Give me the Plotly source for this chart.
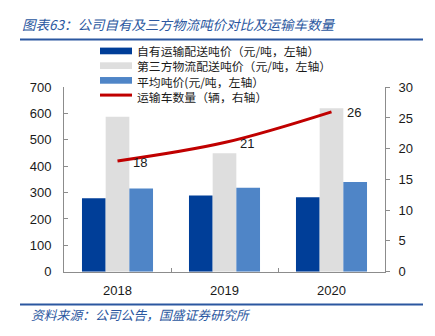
import plotly.graph_objects as go

# Data
years = ["2018", "2019", "2020"]
own_price = [279, 289, 282]          # 自有运输配送吨价（元/吨）
third_party_price = [588, 449, 620]  # 第三方物流配送吨价（元/吨）
avg_price = [316, 318, 340]          # 平均吨价（元/吨）
truck_count = [18, 21, 26]           # 运输车数量（辆）

series_names = [
    "自有运输配送吨价（元/吨，左轴）",
    "第三方物流配送吨价（元/吨，左轴）",
    "平均吨价(元/吨，左轴）",
    "运输车数量（辆，右轴）",
]
left_ticks = [0, 100, 200, 300, 400, 500, 600, 700]
right_ticks = [0, 5, 10, 15, 20, 25, 30]

W, H = 435, 336
C_DARK = "#003E98"
C_GREY = "#DEDEDE"
C_MID = "#4F85C7"
C_RED = "#C00000"
C_HEAD = "#2B57A0"
TICK_FONT = dict(family="Liberation Sans, Arial, sans-serif", size=13, color="#1a1a1a")
CJK = "Noto Sans CJK SC"


def px(x):
    return x / W


def py(y):
    return 1 - y / H


fig = go.Figure()
for vals, col, name in zip([own_price, third_party_price, avg_price],
                           [C_DARK, C_GREY, C_MID], series_names[:3]):
    fig.add_trace(go.Bar(x=years, y=vals, name=name, marker=dict(color=col, line=dict(width=0)),
                         showlegend=False))

fig.add_trace(go.Scatter(x=years, y=truck_count, yaxis="y2", mode="lines", name=series_names[3],
                         line=dict(color=C_RED, width=3, shape="spline"), showlegend=False))

annotations = []
# value labels beside the line points (x given as category index)
for i, v in enumerate(truck_count):
    annotations.append(dict(x=i, y=v, xref="x", yref="y2", text=str(v), showarrow=False,
                            xanchor="left", yanchor="middle", xshift=13, yshift=-1,
                            font=TICK_FONT))

# heading and source
annotations.append(dict(x=px(20), y=py(18), xref="paper", yref="paper", xanchor="left", yanchor="middle",
                        text="<i>图表63：公司自有及三方物流吨价对比及运输车数量</i>", showarrow=False,
                        font=dict(family=CJK, size=13.5, color=C_HEAD)))
annotations.append(dict(x=px(29), y=py(322), xref="paper", yref="paper", xanchor="left", yanchor="middle",
                        text="<i>资料来源：公司公告，国盛证券研究所</i>", showarrow=False,
                        font=dict(family=CJK, size=12.8, color=C_HEAD)))

shapes = [
    dict(type="line", xref="paper", yref="paper", x0=px(20), x1=px(423), y0=py(34), y1=py(34),
         line=dict(color=C_HEAD, width=2)),
    dict(type="line", xref="paper", yref="paper", x0=px(20), x1=px(423), y0=py(311.5), y1=py(311.5),
         line=dict(color=C_HEAD, width=2)),
]

# legend block: swatches as shapes, labels as one left-aligned multi-line text
legend_rows = [46, 61.4, 76.8, 92.2]
legend_cols = [C_DARK, C_GREY, C_MID, C_RED]
for i, (yy, col) in enumerate(zip(legend_rows, legend_cols)):
    if i < 3:
        shapes.append(dict(type="rect", xref="paper", yref="paper", x0=px(100), x1=px(132),
                           y0=py(yy - 3.5), y1=py(yy + 3.5), fillcolor=col, line=dict(width=0)))
    else:
        shapes.append(dict(type="line", xref="paper", yref="paper", x0=px(100), x1=px(132),
                           y0=py(yy), y1=py(yy), line=dict(color=col, width=3)))
legend_mid = sum(legend_rows) / len(legend_rows)
annotations.append(dict(x=px(135), y=py(legend_mid), xref="paper", yref="paper", xanchor="left",
                        yanchor="middle", align="left", text="<br>".join(series_names),
                        showarrow=False, font=dict(family=CJK, size=11.85, color="#1a1a1a")))

axis_line = dict(showline=True, linecolor="#8c8c8c", linewidth=1, showgrid=False, zeroline=False)

fig.update_layout(
    width=W, height=H,
    margin=dict(l=0, r=0, t=0, b=0),
    paper_bgcolor="white", plot_bgcolor="white",
    barmode="group", bargap=0.336, bargroupgap=0,
    showlegend=False,
    xaxis=dict(domain=[px(64), px(385)], type="category", range=[-0.5, len(years) - 0.5],
               ticks="inside", tickson="boundaries",
               ticklen=4, tickcolor="#8c8c8c", tickfont=TICK_FONT, ticklabelstandoff=7,
               **axis_line),
    yaxis=dict(domain=[1 - 277 / H, 1 - 84 / H], range=[0, 700], tickvals=left_ticks,
               ticks="inside", ticklen=4, tickcolor="#8c8c8c", tickfont=TICK_FONT,
               ticklabelstandoff=9, **axis_line),
    yaxis2=dict(overlaying="y", side="right", range=[0, 30], tickvals=right_ticks,
                ticks="outside", ticklen=4, tickcolor="#8c8c8c", tickfont=TICK_FONT,
                ticklabelstandoff=6, anchor="x", **axis_line),
    annotations=annotations,
    shapes=shapes,
)

fig.write_html("out.html")
